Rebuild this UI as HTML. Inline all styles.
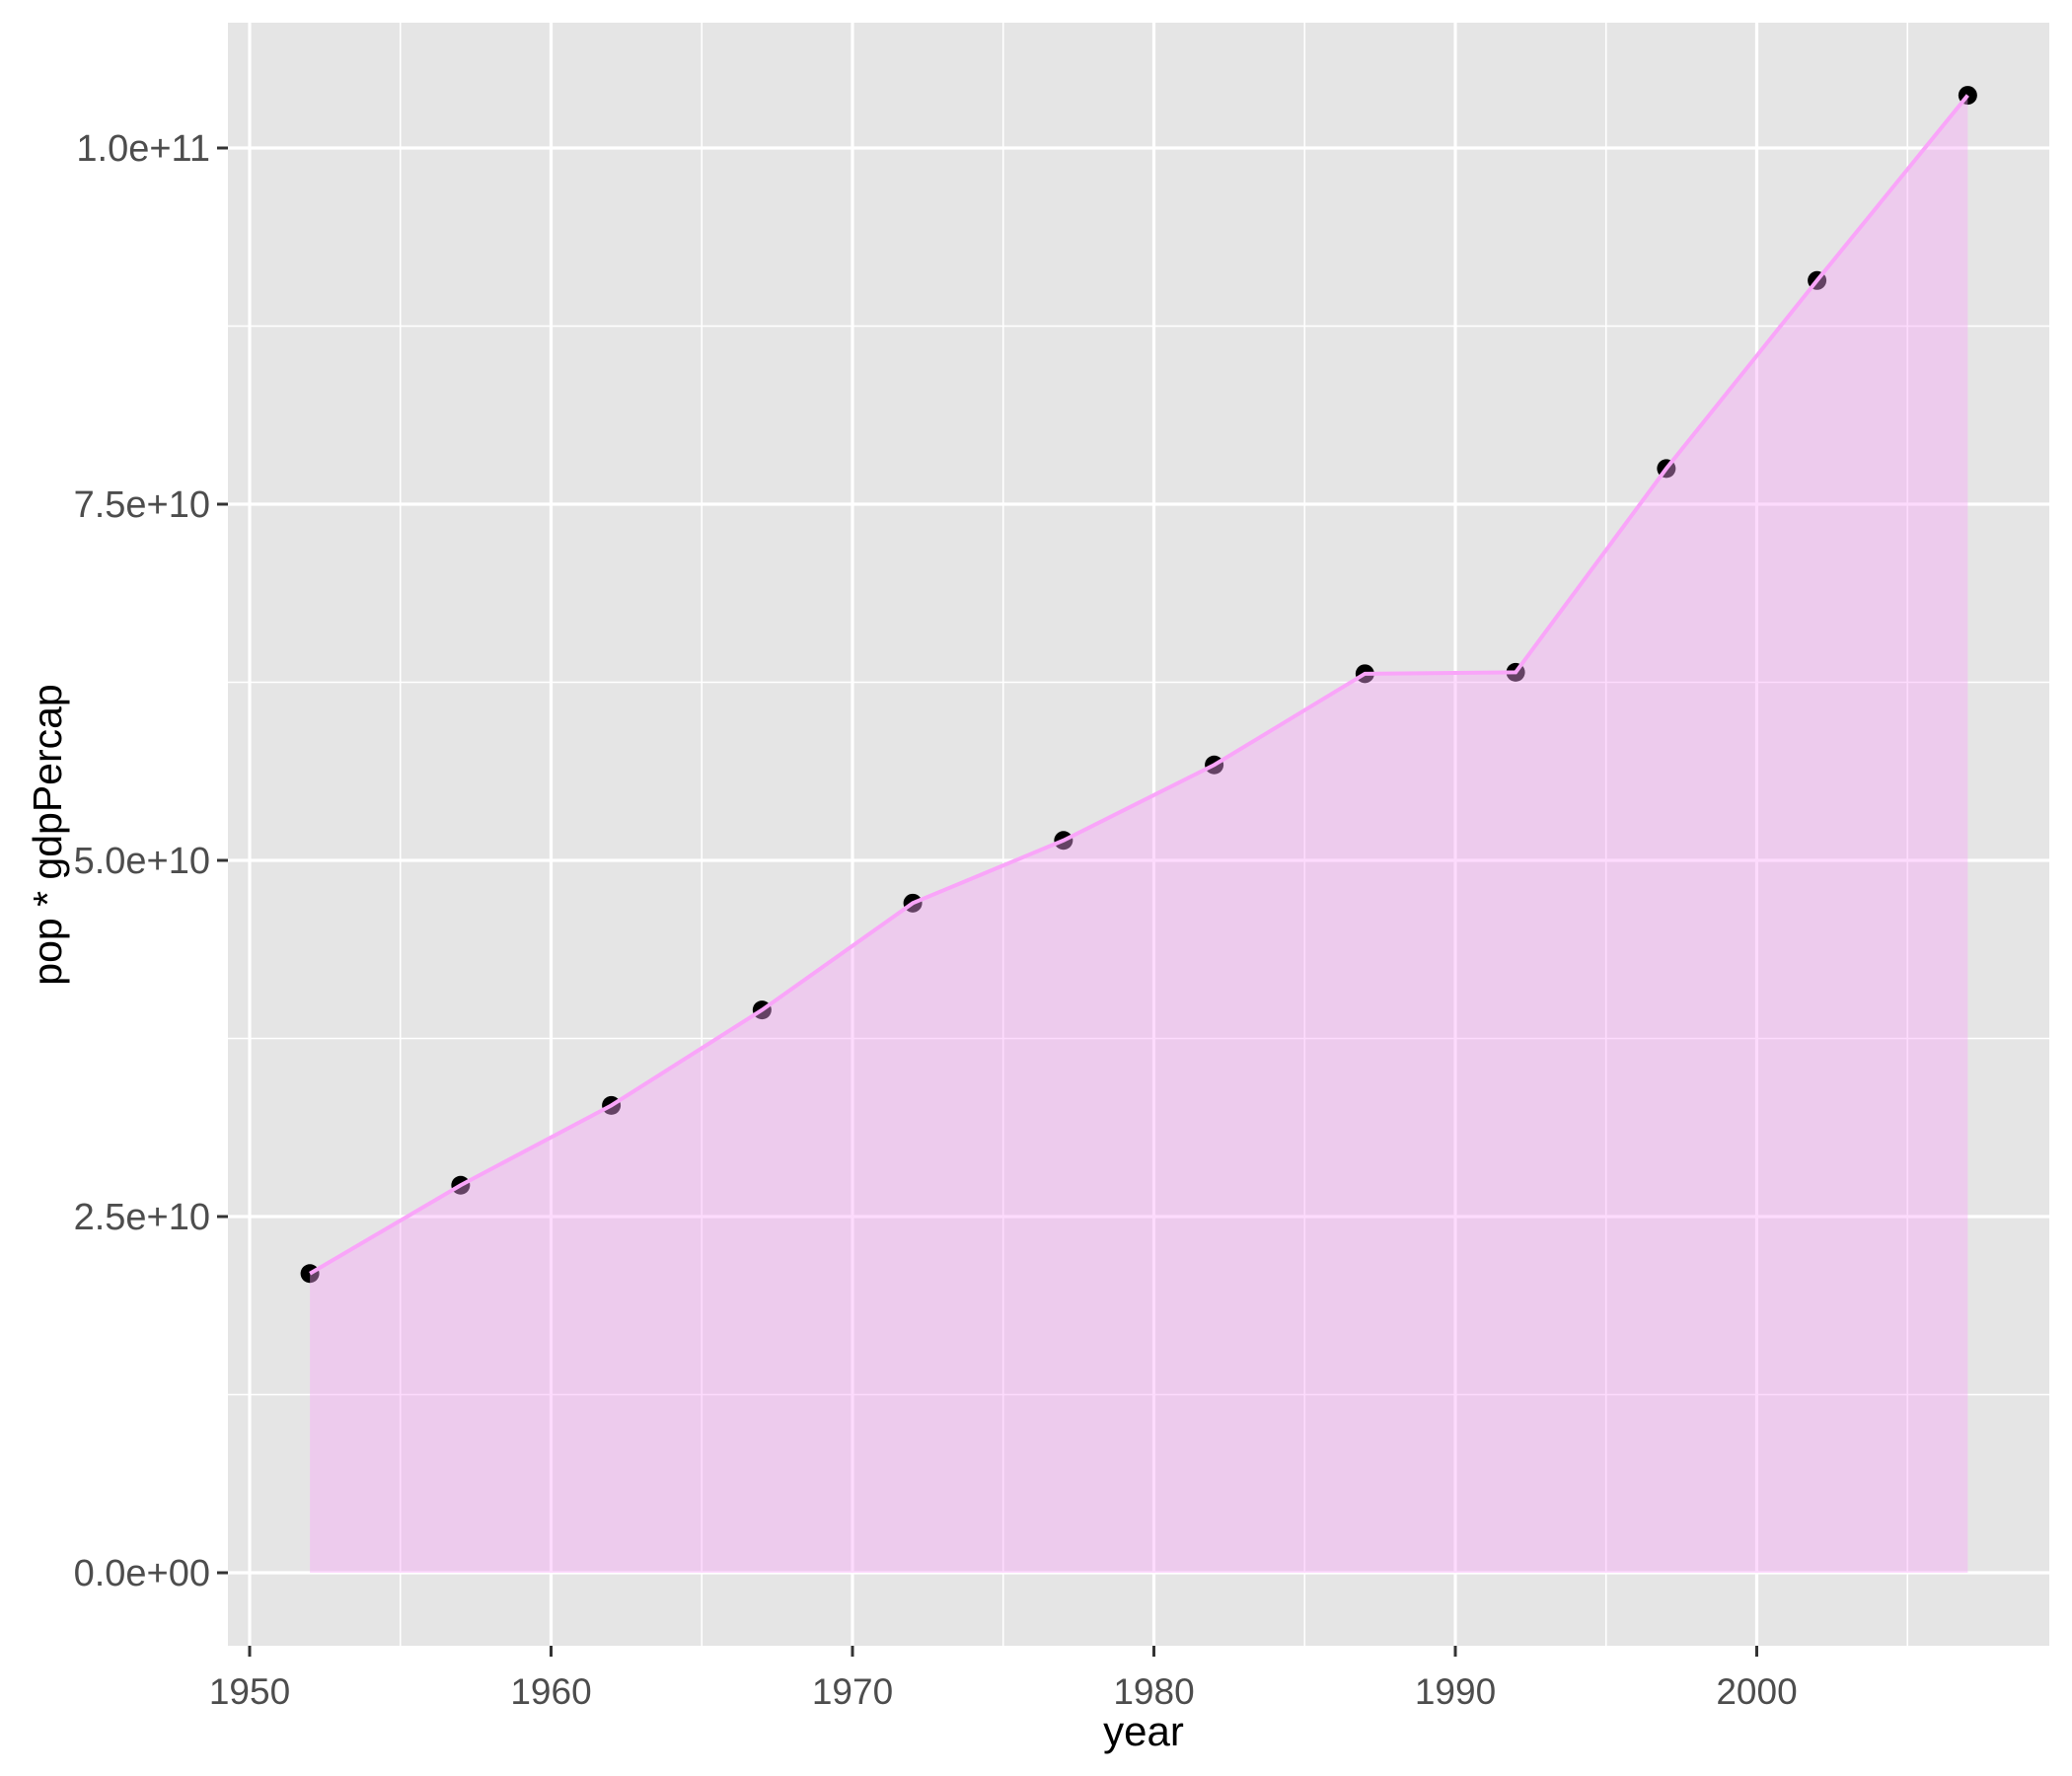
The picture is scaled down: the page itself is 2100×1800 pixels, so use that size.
<!DOCTYPE html>
<html><head><meta charset="utf-8"><style>
html,body{margin:0;padding:0;background:#fff;}
svg{display:block;font-family:"Liberation Sans",Arial,sans-serif;}
</style></head><body>
<svg id="chart" width="2100" height="1800" viewBox="0 0 2100 1800">
<rect x="231" y="23" width="1846" height="1645" fill="#e5e5e5"/>
<g id="grid"></g>
<g id="marks"></g>
<g id="axes"></g>
<text x="1159" y="1769" font-size="42" fill="#000" text-anchor="middle">year</text>
<text transform="translate(62,846) rotate(-90)" font-size="41" fill="#000" text-anchor="middle">pop * gdpPercap</text>
</svg>
<script>
const years = [1952,1957,1962,1967,1972,1977,1982,1987,1992,1997,2002,2007];
const values = [2.10e10,2.72e10,3.28e10,3.95e10,4.70e10,5.14e10,5.67e10,6.31e10,6.32e10,7.75e10,9.07e10,1.037e11];
const xTicks = [1950,1960,1970,1980,1990,2000];
const xMinor = [1955,1965,1975,1985,1995,2005];
const yTicks = [0,2.5e10,5e10,7.5e10,1e11];
const yTickLabels = ["0.0e+00","2.5e+10","5.0e+10","7.5e+10","1.0e+11"];
const yMinor = [1.25e10,3.75e10,6.25e10,8.75e10];

const NS="http://www.w3.org/2000/svg";
const X = yr => 253 + (yr-1950)*30.55;
const Y = v => 1594 - v/1e11*1444;
function mk(tag, attrs, parent){const e=document.createElementNS(NS,tag);for(const k in attrs)e.setAttribute(k,attrs[k]);parent.appendChild(e);return e;}
const grid=document.getElementById('grid'), marks=document.getElementById('marks'), axes=document.getElementById('axes');
xMinor.forEach(t=>{const l=mk('line',{x1:X(t),x2:X(t),y1:23,y2:1668,stroke:'#fff','stroke-width':1.6},grid);

});
yMinor.forEach(t=>{const l=mk('line',{x1:231,x2:2077,y1:Y(t),y2:Y(t),stroke:'#fff','stroke-width':1.6},grid);

});
xTicks.forEach(t=>{const l=mk('line',{x1:X(t),x2:X(t),y1:23,y2:1668,stroke:'#fff','stroke-width':3.2},grid);


const tk=mk('line',{x1:X(t),x2:X(t),y1:1668,y2:1679,stroke:'#333','stroke-width':3},axes);


const tx=mk('text',{x:X(t),y:1727,'font-size':37,fill:'#4d4d4d','text-anchor':'middle'},axes);tx.textContent=t;

});
yTicks.forEach((t,i)=>{const l=mk('line',{x1:231,x2:2077,y1:Y(t),y2:Y(t),stroke:'#fff','stroke-width':3.2},grid);


const tk=mk('line',{x1:220,x2:231,y1:Y(t),y2:Y(t),stroke:'#333','stroke-width':3},axes);


const tx=mk('text',{x:213,y:Y(t)+13,'font-size':38,fill:'#4d4d4d','text-anchor':'end'},axes);tx.textContent=yTickLabels[i];

});
years.forEach((yr,i)=>{const c=mk('circle',{cx:X(yr),cy:Y(values[i]),r:9.5,fill:'#000'},marks);

});
let d='M'+X(years[0])+','+Y(0);
years.forEach((yr,i)=>{d+=' L'+X(yr)+','+Y(values[i]);});
d+=' L'+X(years[years.length-1])+','+Y(0)+' Z';
const area=mk('path',{d:d,fill:'#f9a5f9','fill-opacity':0.4},marks);


const pts=years.map((yr,i)=>X(yr)+','+Y(values[i])).join(' ');
const line=mk('polyline',{points:pts,fill:'none',stroke:'#f9a5f9','stroke-width':4},marks);


</script>
</body></html>
